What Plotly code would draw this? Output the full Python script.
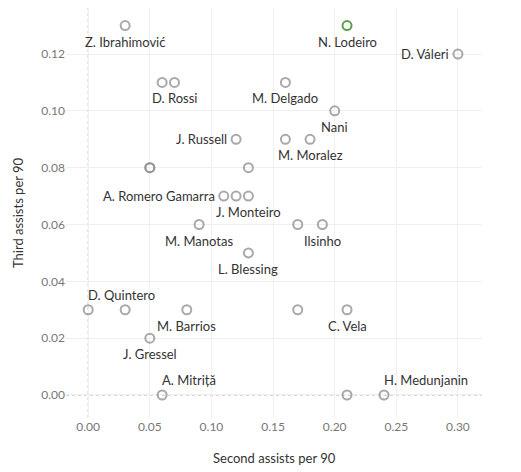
import plotly.graph_objects as go

players = ["Z. Ibrahimović", "N. Lodeiro", "D. Váleri", "D. Rossi (a)", "D. Rossi",
           "M. Delgado", "Nani", "J. Russell", "M. Moralez (a)", "M. Moralez",
           "Unlabeled 1", "Unlabeled 1b", "Unlabeled 2", "A. Romero Gamarra", "Unlabeled 3",
           "J. Monteiro", "M. Manotas", "Unlabeled 4", "Ilsinho", "L. Blessing",
           "D. Quintero", "Unlabeled 5", "M. Barrios", "J. Gressel", "Unlabeled 6",
           "C. Vela", "A. Mitriță", "Unlabeled 7", "H. Medunjanin"]
second_assists = [0.03, 0.21, 0.30, 0.06, 0.07,
                  0.16, 0.20, 0.12, 0.16, 0.18,
                  0.05, 0.05, 0.13, 0.11, 0.12,
                  0.13, 0.09, 0.17, 0.19, 0.13,
                  0.00, 0.03, 0.08, 0.05, 0.17,
                  0.21, 0.06, 0.21, 0.24]
third_assists = [0.13, 0.13, 0.12, 0.11, 0.11,
                 0.11, 0.10, 0.09, 0.09, 0.09,
                 0.08, 0.08, 0.08, 0.07, 0.07,
                 0.07, 0.06, 0.06, 0.06, 0.05,
                 0.03, 0.03, 0.03, 0.02, 0.03,
                 0.03, 0.00, 0.00, 0.00]
highlight = "N. Lodeiro"
x_ticks = [0.00, 0.05, 0.10, 0.15, 0.20, 0.25, 0.30]
y_ticks = [0.00, 0.02, 0.04, 0.06, 0.08, 0.10, 0.12]

# label placement (style, not data)
placement = {
    "Z. Ibrahimović": "below", "N. Lodeiro": "below", "D. Váleri": "left",
    "D. Rossi": "below", "M. Delgado": "below", "Nani": "below",
    "J. Russell": "left", "M. Moralez": "below", "A. Romero Gamarra": "left",
    "J. Monteiro": "below", "M. Manotas": "below", "Ilsinho": "below",
    "L. Blessing": "below", "D. Quintero": "aboveright", "M. Barrios": "below",
    "J. Gressel": "below", "C. Vela": "below", "A. Mitriță": "aboveright",
    "H. Medunjanin": "aboveright",
}

FONT = "Lato"
gray = "rgba(140,140,140,0.75)"
green = "#59a14f"

colors = [green if p == highlight else gray for p in players]

fig = go.Figure()
fig.add_trace(go.Scatter(
    x=second_assists, y=third_assists, mode="markers",
    marker=dict(symbol="circle-open", size=9, color=colors,
                line=dict(width=2, color=colors)),
    hovertext=players, hoverinfo="text", showlegend=False,
))

annotations = []
for p, x, y in zip(players, second_assists, third_assists):
    pos = placement.get(p)
    if pos is None:
        continue
    a = dict(x=x, y=y, xref="x", yref="y", text=p, showarrow=False,
             font=dict(family=FONT, size=13, color="#333333"))
    if pos == "below":
        a.update(xanchor="center", yanchor="middle", yshift=-16)
    elif pos == "left":
        a.update(xanchor="right", yanchor="middle", xshift=-7)
    elif pos == "aboveright":
        a.update(xanchor="left", yanchor="middle", yshift=15, xshift=-2)
    annotations.append(a)

# axis titles placed as paper annotations
annotations.append(dict(x=0.5, y=0, xref="paper", yref="paper", yshift=-40,
                        text="Second assists per 90", showarrow=False,
                        xanchor="center", yanchor="middle",
                        font=dict(family=FONT, size=13, color="#333333")))
annotations.append(dict(x=0, y=0.5, xref="paper", yref="paper", xshift=-48,
                        text="Third assists per 90", showarrow=False, textangle=-90,
                        xanchor="center", yanchor="middle",
                        font=dict(family=FONT, size=13, color="#333333")))

shapes = [
    dict(type="line", xref="x", yref="paper", x0=0, x1=0, y0=0, y1=1,
         line=dict(color="#b0b0b0", width=1, dash="dot"), layer="below"),
    dict(type="line", xref="paper", yref="y", x0=0, x1=1, y0=0, y1=0,
         line=dict(color="#b0b0b0", width=1, dash="dot"), layer="below"),
]

fig.update_layout(
    width=513, height=464,
    margin=dict(l=58, r=39, t=0, b=54, autoexpand=False),
    paper_bgcolor="white", plot_bgcolor="white",
    font=dict(family=FONT, size=12, color="#333333"),
    annotations=annotations, shapes=shapes,
    xaxis=dict(range=[-0.018, 0.3195], tickvals=x_ticks, tickformat=".2f",
               showgrid=True, gridcolor="#efefef", gridwidth=1, zeroline=False,
               showline=False, ticks="", automargin=False,
               tickfont=dict(family=FONT, size=12, color="#777777")),
    yaxis=dict(range=[-0.0081, 0.1362], tickvals=y_ticks, tickformat=".2f",
               showgrid=True, gridcolor="#efefef", gridwidth=1, zeroline=False,
               showline=False, ticks="", automargin=False,
               tickfont=dict(family=FONT, size=12, color="#777777")),
)

fig.write_html("out.html")
